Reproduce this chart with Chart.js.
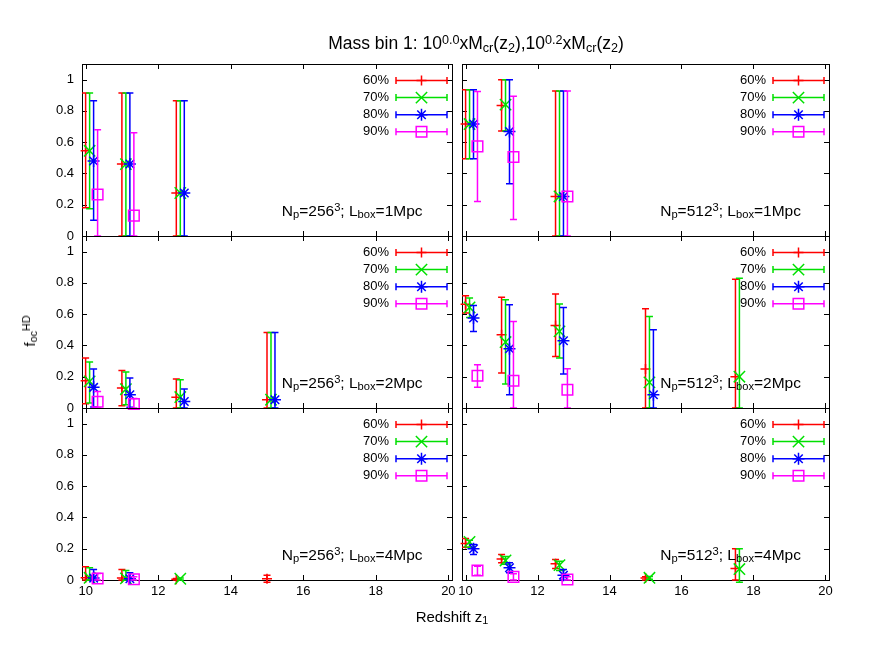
<!DOCTYPE html>
<html>
<head>
<meta charset="utf-8">
<script src="https://cdn.jsdelivr.net/npm/chart.js@4.4.0/dist/chart.umd.min.js"></script>
<style>
  body { margin: 0; background: #fff; }
  #page { position: relative; width: 872px; height: 654px; overflow: hidden; font-family: "Liberation Sans", Arial, sans-serif; color: #000; }
  #page canvas { position: absolute; }
  .txt { position: absolute; white-space: nowrap; line-height: 20px; }
  .txt sub, .txt sup { font-size: 0.72em; line-height: 0; }
  .txt sub { vertical-align: -0.22em; }
  .txt sup { vertical-align: 0.42em; }
</style>
</head>
<body>
<div id="page"></div>
<script>
// redshift bins and percentile thresholds
const redshifts = [10, 11, 12.5, 15, 17.5];
const percentLabels = ["60%", "70%", "80%", "90%"];
const zShift = [0, 0.11, 0.22, 0.33];   // small offset so the bars do not overlap
const xTicks = [10, 12, 14, 16, 18, 20];
const yTicks = [0, 0.2, 0.4, 0.6, 0.8, 1];

// f_oc^HD per percentile: [value, low, high] at each redshift, null = no point
const frac256_1Mpc = [
    [[0.545, 0.18, 0.915], [0.46, 0, 0.915], [0.275, 0, 0.865], null, null],
    [[0.545, 0.175, 0.915], [0.46, 0, 0.915], [0.275, 0, 0.865], null, null],
    [[0.48, 0.10, 0.865], [0.46, 0, 0.915], [0.275, 0, 0.865], null, null],
    [[0.265, 0, 0.68], [0.13, 0, 0.66], null, null, null]
];
const frac512_1Mpc = [
    [[0.716, 0.494, 0.935], [0.835, 0.672, 1.0], [0.253, 0, 0.928], null, null],
    [[0.716, 0.494, 0.935], [0.84, 0.672, 1.0], [0.253, 0, 0.928], null, null],
    [[0.716, 0.494, 0.935], [0.668, 0.334, 1.0], [0.253, 0, 0.928], null, null],
    [[0.573, 0.221, 0.924], [0.505, 0.106, 0.894], [0.253, 0, 0.928], null, null]
];
const frac256_2Mpc = [
    [[0.174, 0.027, 0.319], [0.128, 0.015, 0.24], [0.068, 0, 0.185], [0.053, 0, 0.483], null],
    [[0.17, 0.032, 0.294], [0.12, 0.021, 0.23], [0.07, 0, 0.181], [0.053, 0, 0.483], null],
    [[0.132, 0.006, 0.249], [0.085, 0.005, 0.192], [0.042, 0, 0.121], [0.053, 0, 0.483], null],
    [[0.04, 0, 0.106], [0.026, 0, 0.06], null, null, null]
];
const frac512_2Mpc = [
    [[0.664, 0.607, 0.718], [0.468, 0.224, 0.709], [0.528, 0.33, 0.729], [0.25, 0, 0.635], [0.2, 0, 0.824]],
    [[0.643, 0.579, 0.703], [0.422, 0.153, 0.692], [0.49, 0.32, 0.665], [0.164, 0, 0.585], [0.2, 0, 0.83]],
    [[0.575, 0.49, 0.656], [0.379, 0.085, 0.661], [0.43, 0.217, 0.643], [0.085, 0, 0.50], null],
    [[0.206, 0.132, 0.277], [0.174, 0, 0.553], [0.117, 0, 0.251], null, null]
];
const frac256_4Mpc = [
    [[0.014, 0, 0.084], [0.012, 0, 0.067], [0.005, 0, 0.01], [0.008, -0.015, 0.031], null],
    [[0.014, 0, 0.078], [0.01, 0, 0.06], [0.008, 0, 0.012], null, null],
    [[0.012, 0, 0.067], [0.008, 0, 0.046], null, null, null],
    [[0.01, 0, 0.042], [0.005, 0, 0.02], null, null, null]
];
const frac512_4Mpc = [
    [[0.233, 0.21, 0.265], [0.135, 0.11, 0.163], [0.104, 0.073, 0.131], [0.012, 0, 0.02], [0.073, 0, 0.2]],
    [[0.244, 0.21, 0.255], [0.125, 0.1, 0.15], [0.095, 0.06, 0.12], [0.014, 0.005, 0.022], [0.07, -0.015, 0.2]],
    [[0.2, 0.163, 0.227], [0.078, 0.046, 0.11], [0.031, 0, 0.067], null, null],
    [[0.061, 0.031, 0.088], [0.02, 0, 0.04], [0.003, 0, 0.02], null, null]
];

const panelValues = [frac256_1Mpc, frac512_1Mpc, frac256_2Mpc, frac512_2Mpc, frac256_4Mpc, frac512_4Mpc];
const panelNp = ["256", "512", "256", "512", "256", "512"];
const panelBox = ["1", "1", "2", "2", "4", "4"];

// styles
const seriesColors = ["#ff0000", "#00e000", "#0000ff", "#ff00ff"];
const seriesStyles = ["cross", "crossRot", "star", "rect"];
const seriesRadius = [5, 8, 6, 7.5];

// layout of the 3x2 grid (page pixels)
const colLeft = [82, 462];
const colWidth = [370, 367];
const rowTop = [64, 236, 408];
const rowHeight = 172;
const PAD_L = 60, PAD_T = 24, PAD_R = 16, PAD_B = 30;

Chart.defaults.font.family = '"Liberation Sans", Arial, sans-serif';
Chart.defaults.font.size = 13;
Chart.defaults.color = "#000";

const page = document.getElementById("page");

function addText(html, left, baseline, size, center) {
    const el = document.createElement("div");
    el.className = "txt";
    el.innerHTML = html;
    el.style.fontSize = size + "px";
    el.style.left = left + "px";
    el.style.top = (baseline - ((20 - 1.117 * size) / 2 + 0.905 * size)) + "px";
    if (center) el.style.transform = "translateX(-50%)";
    page.appendChild(el);
    return el;
}

const panelPlugin = {
    id: "panelDecor",
    beforeDatasetsDraw(chart) {
        const { ctx, chartArea: a, scales } = chart;
        ctx.save();
        ctx.strokeStyle = "#000";
        ctx.lineWidth = 1;
        ctx.strokeRect(a.left + 0.5, a.top + 0.5, a.right - a.left, a.bottom - a.top);
        ctx.beginPath();
        xTicks.forEach(v => {
            const px = Math.round(scales.x.getPixelForValue(v)) + 0.5;
            ctx.moveTo(px, a.bottom); ctx.lineTo(px, a.bottom - 5);
            ctx.moveTo(px, a.top); ctx.lineTo(px, a.top + 5);
        });
        yTicks.forEach(v => {
            const py = Math.round(scales.y.getPixelForValue(v)) + 0.5;
            ctx.moveTo(a.left, py); ctx.lineTo(a.left + 5, py);
            ctx.moveTo(a.right, py); ctx.lineTo(a.right - 5, py);
        });
        ctx.stroke();
        ctx.restore();
    },
    beforeDatasetDraw(chart, args) {
        // error bars under the markers of the same series
        const ds = chart.data.datasets[args.index];
        const { ctx, scales } = chart;
        ctx.save();
        ctx.strokeStyle = ds.borderColor;
        ctx.lineWidth = 1.5;
        ctx.beginPath();
        ds.data.forEach(p => {
            const px = scales.x.getPixelForValue(p.x);
            const top = scales.y.getPixelForValue(p.hi);
            const bot = scales.y.getPixelForValue(p.lo);
            ctx.moveTo(px, top); ctx.lineTo(px, bot);
            ctx.moveTo(px - 3.5, top); ctx.lineTo(px + 3.5, top);
            ctx.moveTo(px - 3.5, bot); ctx.lineTo(px + 3.5, bot);
        });
        ctx.stroke();
        ctx.restore();
    },
    afterDraw(chart) {
        const { ctx, chartArea: a } = chart;
        ctx.save();
        percentLabels.forEach((lab, s) => {
            const ly = a.top + 16.5 + 17.1 * s;
            ctx.fillStyle = "#000";
            ctx.font = '13px "Liberation Sans", Arial, sans-serif';
            ctx.textAlign = "right";
            ctx.textBaseline = "middle";
            ctx.fillText(lab, a.right - 63, ly);
            const x0 = a.right - 56, x1 = a.right - 5;
            ctx.strokeStyle = seriesColors[s];
            ctx.lineWidth = 1.5;
            ctx.beginPath();
            ctx.moveTo(x0, ly); ctx.lineTo(x1, ly);
            ctx.moveTo(x0, ly - 3.5); ctx.lineTo(x0, ly + 3.5);
            ctx.moveTo(x1, ly - 3.5); ctx.lineTo(x1, ly + 3.5);
            ctx.stroke();
            ctx.fillStyle = "rgba(0,0,0,0)";
            Chart.helpers.drawPoint(ctx, {
                pointStyle: seriesStyles[s], radius: seriesRadius[s], rotation: 0, borderWidth: 1.5
            }, (x0 + x1) / 2, ly);
        });
        ctx.restore();
    }
};

function makePanel(idx) {
    const col = idx % 2, row = Math.floor(idx / 2);
    const L = colLeft[col], W = colWidth[col], T = rowTop[row], H = rowHeight;
    const values = panelValues[idx];

    const canvas = document.createElement("canvas");
    canvas.width = W + PAD_L + PAD_R;
    canvas.height = H + PAD_T + PAD_B;
    canvas.style.left = (L - PAD_L) + "px";
    canvas.style.top = (T - PAD_T) + "px";
    page.appendChild(canvas);

    const datasets = percentLabels.map((lab, s) => {
        const pts = [];
        redshifts.forEach((z, k) => {
            const v = values[s][k];
            if (v) pts.push({ x: z + zShift[s], y: v[0], lo: v[1], hi: v[2] });
        });
        return {
            label: lab,
            data: pts,
            borderColor: seriesColors[s],
            backgroundColor: "rgba(0,0,0,0)",
            pointStyle: seriesStyles[s],
            pointRadius: seriesRadius[s],
            pointBorderWidth: 1.5,
            showLine: false,
            clip: false,
            order: 3 - s
        };
    });

    new Chart(canvas.getContext("2d"), {
        type: "scatter",
        data: { datasets: datasets },
        options: {
            responsive: false,
            animation: false,
            events: [],
            layout: { padding: { left: 0, top: PAD_T, right: PAD_R, bottom: 0 } },
            plugins: { legend: { display: false }, tooltip: { enabled: false } },
            scales: {
                x: {
                    type: "linear",
                    min: 9.9,
                    max: 20.1,
                    grid: { display: false, drawTicks: false },
                    border: { display: false },
                    ticks: {
                        display: row === 2,
                        stepSize: 2,
                        includeBounds: false,
                        maxRotation: 0,
                        padding: 4
                    },
                    afterFit: sc => { sc.height = PAD_B; }
                },
                y: {
                    type: "linear",
                    min: 0,
                    max: 1.1,
                    grid: { display: false, drawTicks: false },
                    border: { display: false },
                    ticks: {
                        display: col === 0,
                        stepSize: 0.2,
                        includeBounds: false,
                        padding: 8,
                        callback: v => String(Math.round(v * 10) / 10)
                    },
                    afterFit: sc => { sc.width = PAD_L; }
                }
            }
        },
        plugins: [panelPlugin]
    });

    addText("N<sub>p</sub>=" + panelNp[idx] + "<sup>3</sup>; L<sub>box</sub>=" + panelBox[idx] + "Mpc",
        L + 0.54 * W, T + H - 19.6, 15.5, false);
}

for (let i = 0; i < 6; i++) makePanel(i);

addText("Mass bin 1: 10<sup>0.0</sup>xM<sub>cr</sub>(z<sub>2</sub>),10<sup>0.2</sup>xM<sub>cr</sub>(z<sub>2</sub>)", 476, 49.3, 17.5, true);
addText("Redshift z<sub>1</sub>", 452, 622, 15, true);
const yl = addText("f<sub>oc</sub><sup>HD</sup>", 30, 336, 15, false);
yl.style.transform = "translate(-50%, 0) rotate(-90deg)";
yl.style.transformOrigin = "50% 50%";
</script>
</body>
</html>
